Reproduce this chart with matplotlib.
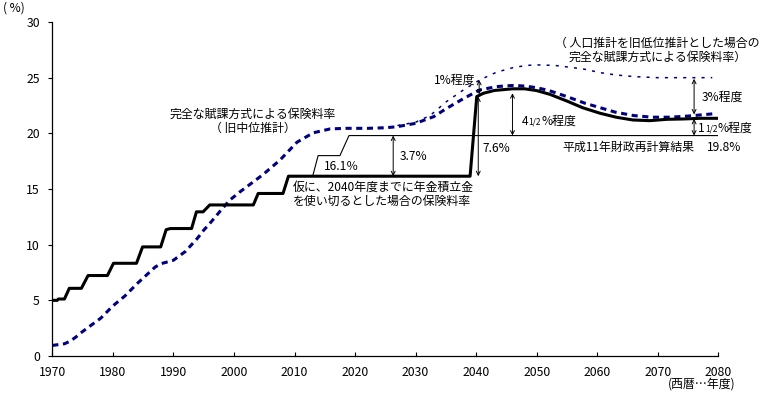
import matplotlib.pyplot as plt
from matplotlib.transforms import offset_copy

plt.rcParams['font.family'] = ['Noto Sans CJK JP', 'DejaVu Sans']

# 仮に2040年度までに積立金を使い切る場合（太線）
fund_years = [1970, 1970.8, 1971.0, 1972.0, 1972.8, 1974.8, 1975.9, 1979.1, 1980.1, 1983.9,
              1984.9, 1987.9, 1988.8, 1989.5, 1993.0, 1993.8, 1994.9, 1996.0, 2003.2, 2004.0,
              2008.1, 2009.0, 2039.0, 2040.1, 2041.2, 2043.0, 2046.0, 2048.0, 2050.0, 2052.2,
              2055.0, 2057.6, 2060.5, 2063.2, 2065.9, 2068.7, 2071.5, 2074.2, 2077.0, 2080.0]
fund_rate = [5.0, 5.0, 5.12, 5.12, 6.08, 6.08, 7.23, 7.23, 8.33, 8.33,
             9.8, 9.8, 11.35, 11.45, 11.45, 12.95, 12.95, 13.57, 13.57, 14.6,
             14.6, 16.15, 16.15, 23.3, 23.6, 23.85, 24.0, 24.0, 23.84, 23.5,
             22.9, 22.3, 21.8, 21.44, 21.2, 21.14, 21.26, 21.29, 21.35, 21.35]

# 平成11年財政再計算結果（細線）
recalc_years = [2013.0, 2013.9, 2017.5, 2019.0, 2080.0]
recalc_rate = [16.15, 18.0, 18.0, 19.8, 19.8]

# 完全な賦課方式（旧中位推計）
mid_years = [1970, 1972, 1973, 1974, 1975, 1976, 1977, 1978, 1980, 1982,
             1984, 1985, 1986, 1987, 1988, 1990, 1991, 1992, 1993, 1994,
             1995, 1996, 1997.7, 1999.3, 2001, 2002.6, 2004.8, 2007.6, 2010.4, 2013.1,
             2015.9, 2018.6, 2022, 2025, 2027, 2030, 2033, 2035, 2038, 2040.6,
             2043.4, 2046, 2048, 2050, 2052, 2055, 2058, 2060.5, 2063, 2066,
             2069, 2072, 2075, 2077, 2079]
mid_rate = [0.95, 1.1, 1.35, 1.75, 2.2, 2.6, 3.0, 3.4, 4.5, 5.4,
            6.5, 7.0, 7.5, 8.0, 8.3, 8.6, 9.0, 9.4, 10.0, 10.6,
            11.3, 11.9, 13.0, 14.0, 14.75, 15.4, 16.3, 17.6, 19.2, 20.05,
            20.4, 20.45, 20.45, 20.5, 20.6, 20.9, 21.5, 22.2, 23.15, 23.9,
            24.2, 24.3, 24.25, 24.1, 23.85, 23.3, 22.7, 22.3, 21.9, 21.6,
            21.45, 21.45, 21.55, 21.65, 21.75]

# 完全な賦課方式（旧低位推計）
low_years = [2024, 2026, 2028, 2030, 2032.4, 2035.1, 2037.9, 2040.6, 2043.4, 2046.1,
             2048.3, 2050, 2053, 2056, 2058, 2060.5, 2063, 2066, 2070, 2074, 2079]
low_rate = [20.5, 20.6, 20.8, 21.0, 21.6, 22.85, 23.9, 24.8, 25.5, 25.9,
            26.1, 26.15, 26.1, 25.9, 25.75, 25.45, 25.25, 25.1, 25.0, 25.0, 25.0]

navy = '#000080'
fs = 8.6

fig = plt.figure(figsize=(7.64, 3.93), dpi=100)
ax = fig.add_axes([0.0685, 0.0941, 0.8717, 0.8499])

ax.plot(low_years, low_rate, color=navy, lw=1.1, dashes=(2, 4))
ax.plot(mid_years, mid_rate, color=navy, lw=2.2, dashes=(2, 1.5))
ax.plot(recalc_years, recalc_rate, color='black', lw=0.8)
ax.plot(fund_years, fund_rate, color='black', lw=2.2)

ax.set_xlim(1970, 2080)
ax.set_ylim(0, 30)
ax.set_xticks(range(1970, 2081, 10))
ax.set_yticks(range(0, 31, 5))
ax.tick_params(axis='x', direction='in', length=3, pad=7, labelsize=8.8)
ax.tick_params(axis='y', direction='out', length=3, pad=6, labelsize=8.8)
for s in ['top', 'right']:
    ax.spines[s].set_visible(False)
for s in ['left', 'bottom']:
    ax.spines[s].set_linewidth(0.9)


def arrow(x, y0, y1):
    ax.annotate('', xy=(x, y1), xytext=(x, y0),
                arrowprops=dict(arrowstyle='<->', lw=0.7, color='black',
                                shrinkA=0, shrinkB=0, mutation_scale=7))


def frac_label(x, y, whole):
    # 「4 1/2%程度」のように、分数部分だけ小さく書く
    renderer = fig.canvas.get_renderer()
    pieces = [(whole, fs), ('1/2', 6), ('%程度', fs)]
    dx = 0.0
    for s, size in pieces:
        tr = offset_copy(ax.transData, fig=fig, x=dx, y=0, units='dots')
        t = ax.text(x, y, s, ha='left', va='baseline', fontsize=size, transform=tr)
        dx += t.get_window_extent(renderer).width + 0.5


arrow(2026.3, 16.15, 19.8)
arrow(2040.35, 16.15, 23.3)
arrow(2040.5, 23.5, 24.8)
arrow(2046.0, 19.8, 23.6)
arrow(2076.0, 21.7, 24.9)
arrow(2076.0, 19.8, 21.3)

ax.text(2003.1, 21.1, '完全な賦課方式による保険料率\n（ 旧中位推計）', ha='center', va='center',
        fontsize=fs, linespacing=1.1)
ax.text(2017.8, 17.0, '16.1％', ha='center', va='center', fontsize=fs)
ax.text(2027.4, 17.9, '3.7%', ha='left', va='center', fontsize=fs)
ax.text(2009.8, 14.5, '仮に、2040年度までに年金積立金\nを使い切るとした場合の保険料率',
        ha='left', va='center', fontsize=fs, linespacing=1.1)
ax.text(2033.0, 24.8, '1%程度', ha='left', va='center', fontsize=fs)
ax.text(2041.0, 18.6, '7.6%', ha='left', va='center', fontsize=fs)
ax.text(2054.3, 18.7, '平成11年財政再計算結果', ha='left', va='center', fontsize=fs)
ax.text(2078.1, 18.7, '19.8%', ha='left', va='center', fontsize=fs)
ax.text(2069.9, 27.45, '（ 人口推計を旧低位推計とした場合の\n完全な賦課方式による保険料率）',
        ha='center', va='center', fontsize=fs, linespacing=1.1)
ax.text(2077.3, 23.2, '3%程度', ha='left', va='center', fontsize=fs)

frac_label(2047.5, 20.75, '4')
frac_label(2076.6, 20.15, '1')

fig.text(3 / 764, 1 - 8 / 393, '( %)', ha='left', va='center', fontsize=fs)
fig.text(668 / 764, 1 - 384 / 393, '(西暦…年度)', ha='left', va='center', fontsize=fs)

fig.savefig('out.png', dpi=100)
